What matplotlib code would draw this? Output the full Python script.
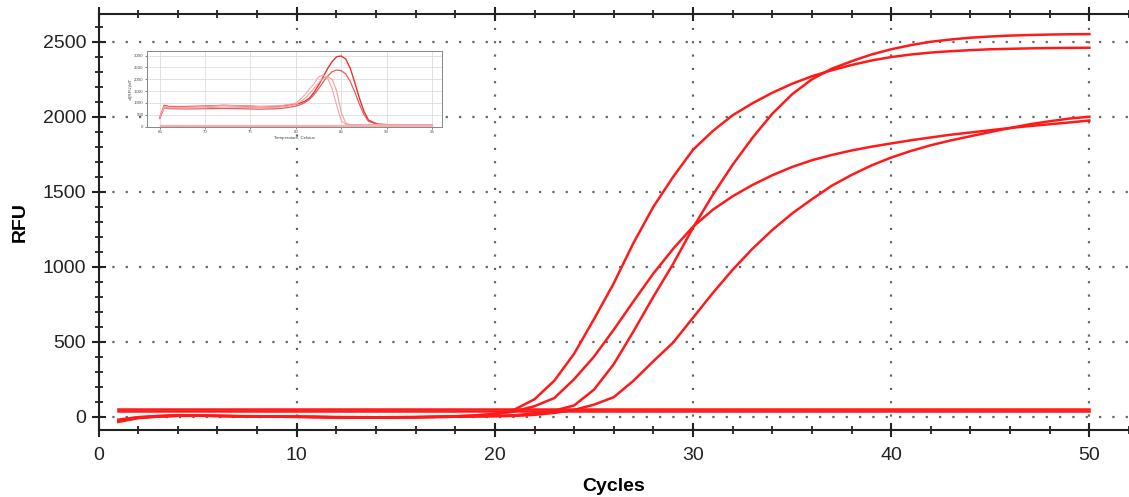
import matplotlib
matplotlib.use("Agg")
import matplotlib.pyplot as plt
from matplotlib.ticker import MultipleLocator
import numpy as np

plt.rcParams['font.family'] = ['Liberation Sans', 'DejaVu Sans']

# Amplification data (RFU per cycle)
cycles = np.arange(1, 51)
rfu_a = [-25, -5, 3, 8, 8, 5, 3, 2, 1, 0,
         -2, -4, -5, -5, -4, -3, -1, 2, 8, 20,
         48, 116, 240, 420, 650, 890, 1160, 1400, 1600, 1780,
         1905, 2010, 2090, 2160, 2220, 2270, 2310, 2345, 2375, 2398,
         2415, 2428, 2437, 2444, 2450, 2453, 2456, 2458, 2459, 2460]
rfu_b = [-30, -8, 2, 6, 7, 5, 3, 1, 0, -1,
         -3, -5, -6, -6, -5, -4, -2, 0, 3, 5,
         10, 22, 40, 75, 180, 350, 570, 800, 1020, 1260,
         1480, 1680, 1860, 2020, 2150, 2250, 2320, 2370, 2415, 2450,
         2478, 2500, 2515, 2527, 2535, 2541, 2545, 2548, 2550, 2551]
rfu_c = [-20, -3, 5, 10, 9, 6, 4, 3, 2, 1,
         0, -2, -3, -4, -3, -2, 0, 3, 8, 15,
         35, 70, 124, 250, 400, 580, 770, 955, 1120, 1267,
         1380, 1470, 1545, 1610, 1665, 1710, 1745, 1775, 1800, 1822,
         1843, 1862, 1880, 1895, 1910, 1925, 1938, 1950, 1962, 1975]
rfu_d = [-35, -10, 0, 5, 6, 4, 2, 0, -1, -2,
         -4, -6, -7, -7, -6, -5, -3, -1, 1, 2,
         5, 12, 25, 45, 80, 130, 240, 370, 495, 660,
         825, 980, 1120, 1245, 1355, 1450, 1540, 1612, 1675, 1728,
         1772, 1810, 1842, 1870, 1898, 1925, 1950, 1970, 1988, 2000]
neg_cycles = [1, 50]
rfu_neg1 = [38, 38]
rfu_neg2 = [48, 48]

# Melt curve data for the inset (-dRFU/dT)
temps = [65, 65.5, 66, 68, 70, 72, 74, 76, 78, 79, 80, 80.5, 81, 81.5, 82, 82.5,
         83, 83.5, 84, 84.5, 85, 85.5, 86, 86.5, 87, 87.5, 88, 89, 90, 92, 94, 95]
melt_1 = [380, 900, 850, 850, 870, 900, 880, 850, 860, 900, 950, 1000, 1080, 1200, 1450, 1750,
          2100, 2450, 2750, 2950, 2980, 2850, 2450, 1850, 1200, 650, 280, 110, 90, 80, 80, 60]
melt_2 = [350, 800, 760, 750, 760, 770, 760, 740, 760, 800, 870, 930, 1020, 1150, 1350, 1600,
          1880, 2130, 2320, 2390, 2360, 2220, 1900, 1450, 950, 520, 230, 100, 85, 80, 75, 60]
melt_3 = [420, 870, 830, 830, 860, 900, 880, 850, 870, 920, 1000, 1150, 1350, 1600, 1800, 2100,
          2180, 2050, 1600, 900, 250, 100, 80, 80, 80, 80, 80, 80, 80, 80, 80, 70]
melt_4 = [380, 820, 790, 790, 800, 830, 820, 800, 820, 860, 950, 1050, 1200, 1400, 1620, 1850,
          2030, 2110, 2000, 1500, 600, 150, 90, 85, 80, 80, 80, 80, 80, 80, 80, 70]
melt_neg_t = [65, 95]
melt_neg1 = [90, 90]
melt_neg2 = [50, 50]

RED = "#ff1a1a"

fig = plt.figure(figsize=(11.29, 4.97), dpi=100)
ax = fig.add_axes([0.0873, 0.1348, 0.9127, 0.837])

for y in (rfu_a, rfu_b, rfu_c, rfu_d):
    ax.plot(cycles, y, color=RED, lw=1.8, zorder=3)
for y in (rfu_neg1, rfu_neg2):
    ax.plot(neg_cycles, y, color=RED, lw=1.8, zorder=3)

ax.set_xlim(0, 52)
ax.set_ylim(-89, 2685)
ax.xaxis.set_major_locator(MultipleLocator(10))
ax.xaxis.set_minor_locator(MultipleLocator(2))
ax.yaxis.set_major_locator(MultipleLocator(500))
ax.yaxis.set_minor_locator(MultipleLocator(100))

ax.grid(True, which="major", color="#666666", linestyle=(0, (1, 5)), linewidth=1.6)
for s in ("left", "bottom", "top"):
    ax.spines[s].set_linewidth(1.5)
    ax.spines[s].set_color("#222222")
ax.spines["right"].set_visible(False)

ax.tick_params(axis="both", which="major", direction="inout", length=10, width=1.5,
               labelsize=14, colors="#222222", top=True, pad=4)
ax.tick_params(axis="both", which="minor", direction="inout", length=6, width=1.3,
               colors="#222222", top=True)
ax.tick_params(axis="x", which="both", labeltop=False)
ax.tick_params(axis="x", which="major", pad=7)

ax.set_xlabel("Cycles", fontsize=14, fontweight="bold", labelpad=10)
ax.set_ylabel("RFU", fontsize=14, fontweight="bold", labelpad=10)

# Inset: melt curve
ins = fig.add_axes([0.1302, 0.7445, 0.2613, 0.1529])
ins.plot(temps, melt_1, color="#e8322f", lw=1.0, zorder=3)
ins.plot(temps, melt_2, color="#ea5a5a", lw=0.9, zorder=3)
ins.plot(temps, melt_3, color="#f4a5a5", lw=0.8, zorder=3)
ins.plot(temps, melt_4, color="#f0a0a0", lw=0.8, zorder=3)
ins.plot(melt_neg_t, melt_neg1, color="#f4b0b0", lw=1.0, zorder=3)
ins.plot(melt_neg_t, melt_neg2, color="#f4b0b0", lw=1.0, zorder=3)
ins.set_xlim(63.6, 96.1)
ins.set_ylim(-10, 3190)
ins.set_xticks([65, 70, 75, 80, 85, 90, 95])
ins.set_yticks([0, 500, 1000, 1500, 2000, 2500, 3000])
ins.grid(True, color="#dddddd", linewidth=0.6)
for s in ins.spines.values():
    s.set_color("#888888")
    s.set_linewidth(0.7)
ins.tick_params(labelsize=3.2, length=1.5, width=0.5, colors="#555555", pad=1)
ins.set_xlabel("Temperature, Celsius", fontsize=3.2, labelpad=1, color="#444444")
ins.set_ylabel("-d(RFU)/dT", fontsize=3.2, labelpad=1, color="#444444")

fig.savefig("out.png", dpi=100)
